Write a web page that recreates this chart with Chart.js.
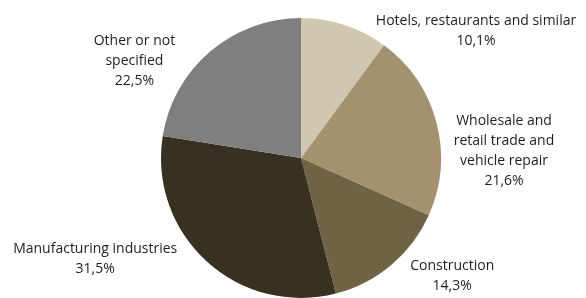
<!DOCTYPE html>
<html>
<head>
<meta charset="utf-8">
<script src="https://cdn.jsdelivr.net/npm/chart.js@4"></script>
<style>
  html, body { margin: 0; padding: 0; background: #fff; }
  #wrap { width: 586px; height: 298px; }
</style>
</head>
<body>
<div id="wrap"><canvas id="pieChart" width="586" height="298"></canvas></div>
<script>
const sectors = [
    ['Hotels, restaurants and similar'],
    ['Wholesale and', 'retail trade and', 'vehicle repair'],
    ['Construction'],
    ['Manufacturing industries'],
    ['Other or not', 'specified']
]
const shares = [10.1, 21.6, 14.3, 31.5, 22.5]
const colours = ['#d0c7b1', '#a3926d', '#6f6245', '#383122', '#7f7f7f']

// where each label sits, relative to pie centre, in units of the radius
const labelSpots = [
    [1.25, -0.91],
    [1.45, -0.05],
    [1.08, 0.84],
    [-1.47, 0.72],
    [-1.19, -0.69]
]

const pieLabels = {
    id: 'pieLabels',
    afterDatasetsDraw(chart) {
        const c = chart.ctx
        const arc = chart.getDatasetMeta(0).data[0]
        const cx = arc.x, cy = arc.y, r = arc.outerRadius
        c.save()
        c.font = '14px "Open Sans"'
        c.fillStyle = '#1e1e1e'
        c.textAlign = 'center'
        c.textBaseline = 'middle'
        const lh = 20
        sectors.forEach((lines, i) => {
            const all = lines.concat([shares[i].toFixed(1).replace('.', ',') + '%'])
            const x = cx + labelSpots[i][0] * r
            const y0 = cy + labelSpots[i][1] * r - (all.length - 1) * lh / 2
            all.forEach((t, j) => c.fillText(t, x, y0 + j * lh))
        })
        c.restore()
    }
}

const ctx = document.getElementById('pieChart').getContext('2d')

new Chart(ctx, {
    type: 'pie',
    data: {
        labels: sectors.map(s => s.join(' ')),
        datasets: [{
            data: shares,
            backgroundColor: colours,
            borderWidth: 0
        }]
    },
    options: {
        responsive: false,
        animation: false,
        layout: {
            padding: { left: 161, right: 145, top: 18, bottom: 0 }
        },
        plugins: {
            legend: { display: false },
            tooltip: { enabled: false }
        }
    },
    plugins: [pieLabels]
})
</script>
</body>
</html>
